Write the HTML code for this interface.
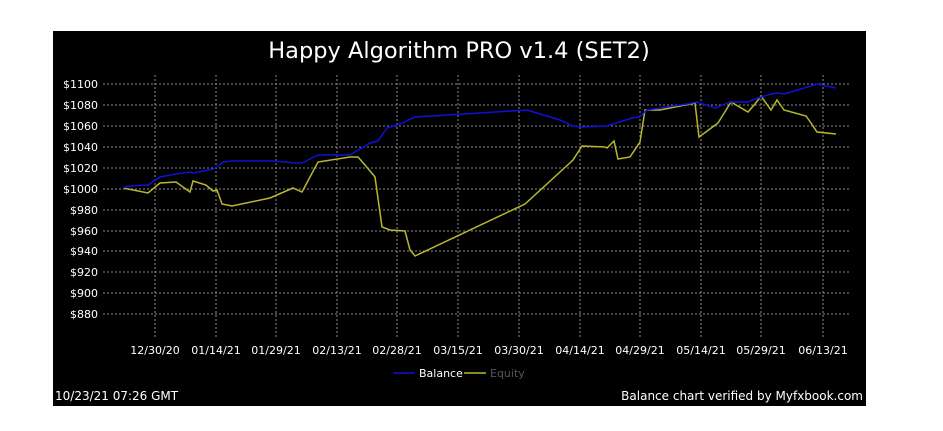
<!DOCTYPE html>
<html><head><style>
body{margin:0;background:#fff;width:943px;height:431px;overflow:hidden;font-family:"DejaVu Sans","Liberation Sans",sans-serif}
</style></head><body>
<svg width="943" height="431" xmlns="http://www.w3.org/2000/svg" style="position:absolute;left:0;top:0">
<rect x="53" y="31" width="813" height="375" fill="#000"/>
<text x="459" y="58" fill="#fff" font-size="22.5" text-anchor="middle" font-family="DejaVu Sans, sans-serif">Happy Algorithm PRO v1.4 (SET2)</text>
<g stroke="#8a8a8a" stroke-width="1" stroke-dasharray="2,2">
<line x1="103" x2="849" y1="84" y2="84"/><line x1="103" x2="849" y1="105" y2="105"/><line x1="103" x2="849" y1="126" y2="126"/><line x1="103" x2="849" y1="147" y2="147"/><line x1="103" x2="849" y1="168" y2="168"/><line x1="103" x2="849" y1="189" y2="189"/><line x1="103" x2="849" y1="210" y2="210"/><line x1="103" x2="849" y1="231" y2="231"/><line x1="103" x2="849" y1="251" y2="251"/><line x1="103" x2="849" y1="272" y2="272"/><line x1="103" x2="849" y1="293" y2="293"/><line x1="103" x2="849" y1="314" y2="314"/>
<line x1="155" x2="155" y1="75" y2="337"/><line x1="216" x2="216" y1="75" y2="337"/><line x1="276" x2="276" y1="75" y2="337"/><line x1="337" x2="337" y1="75" y2="337"/><line x1="397" x2="397" y1="75" y2="337"/><line x1="458" x2="458" y1="75" y2="337"/><line x1="519" x2="519" y1="75" y2="337"/><line x1="580" x2="580" y1="75" y2="337"/><line x1="640" x2="640" y1="75" y2="337"/><line x1="701" x2="701" y1="75" y2="337"/><line x1="761" x2="761" y1="75" y2="337"/><line x1="823" x2="823" y1="75" y2="337"/>
</g>
<g fill="#fff" font-size="11" text-anchor="end">
<text x="98" y="88">$1100</text><text x="98" y="109">$1080</text><text x="98" y="130">$1060</text><text x="98" y="151">$1040</text><text x="98" y="172">$1020</text><text x="98" y="193">$1000</text><text x="98" y="214">$980</text><text x="98" y="235">$960</text><text x="98" y="255">$940</text><text x="98" y="276">$920</text><text x="98" y="297">$900</text><text x="98" y="318">$880</text>
</g>
<g fill="#fff" font-size="11" text-anchor="middle">
<text x="155" y="354">12/30/20</text><text x="216" y="354">01/14/21</text><text x="276" y="354">01/29/21</text><text x="337" y="354">02/13/21</text><text x="397" y="354">02/28/21</text><text x="458" y="354">03/15/21</text><text x="519" y="354">03/30/21</text><text x="580" y="354">04/14/21</text><text x="640" y="354">04/29/21</text><text x="701" y="354">05/14/21</text><text x="761" y="354">05/29/21</text><text x="823" y="354">06/13/21</text>
</g>
<polyline fill="none" stroke="#b8b830" stroke-width="1.5" points="123,188 128,189 148,193 160,183 176,182 190,192 193,181 206,185 213,191 217,190 222,204 232,206 270,198 293,188 302,192 318,162 350,157 358,157 365,165 375,177 382,227 390,230 405,231 410,250 415,256 525,204 560,172 573,160 582,146 605,147 607,148 614,141 618,159 630,157 640,142 645,110 660,110 690,104 695,103 699,137 718,123 731,102 748,112 755,104 761,96 771,110 777,100 784,110 806,116 811,123 817,132 836,134"/>
<polyline fill="none" stroke="#1010d8" stroke-width="1.5" points="123,188 128,186 148,185 160,177 176,174 190,172 194,173 213,169 217,167 223,162 232,161 275,161 295,163 302,163 318,155 350,155 370,143 378,141 387,128 400,124 415,117 527,110 560,120 573,126 582,127 607,126 632,118 639,117 647,110 660,108 687,104 697,102 715,108 730,102 748,102 755,99 771,94 777,93 784,94 811,86 817,84 836,88"/>
<line x1="393" x2="415" y1="373" y2="373" stroke="#1010d8" stroke-width="1.5"/>
<text x="419" y="377" fill="#fff" font-size="11">Balance</text>
<line x1="464" x2="486" y1="373" y2="373" stroke="#b8b830" stroke-width="1.5"/>
<text x="490" y="377" fill="#555" font-size="11">Equity</text>
<text x="55" y="400" fill="#fff" font-size="12">10/23/21 07:26 GMT</text>
<text x="863" y="400" fill="#fff" font-size="12" text-anchor="end">Balance chart verified by Myfxbook.com</text>
</svg>
</body></html>
